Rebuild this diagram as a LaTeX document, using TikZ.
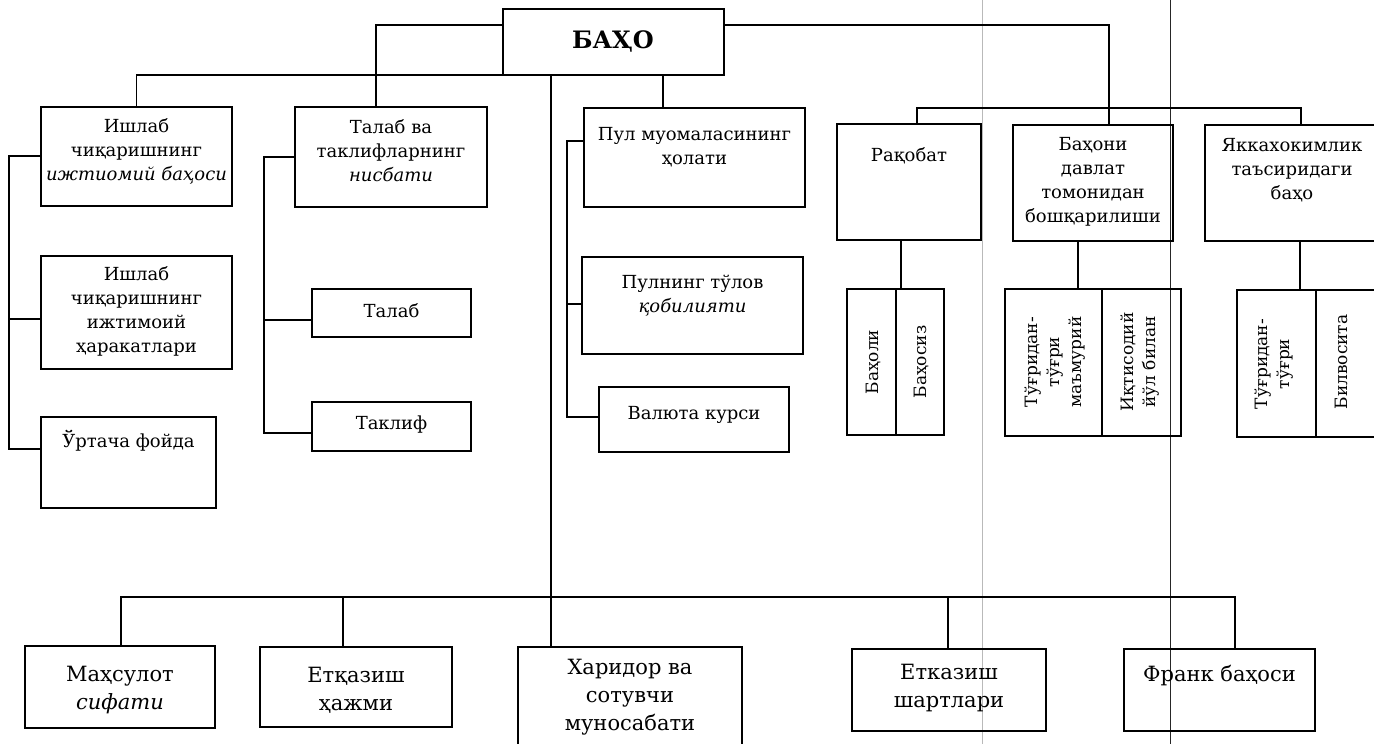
\documentclass[tikz,border=0pt]{standalone}
\usepackage{fontspec}
\setmainfont{DejaVu Serif}
\usetikzlibrary{calc}
\newcommand{\mkbox}[5]{\node[bx, minimum width={(#4-#2)*1pt}, minimum height={(#5-#3)*1pt}] (#1) at ({(#2+#4)/2},{(#3+#5)/2}) {};}
\tikzset{
  bx/.style={draw, rectangle, line width=1.3pt, inner sep=0pt, outer sep=0pt},
  lbl/.style={align=center, inner sep=0pt, font=\fontsize{18}{24}\selectfont},
  big/.style={align=center, inner sep=0pt, font=\fontsize{21}{28}\selectfont},
  rot/.style={align=center, inner sep=0pt, rotate=90, font=\fontsize{17}{22}\selectfont},
  conn/.style={line width=1.3pt},
  divline/.style={line width=1.3pt},
  scanline/.style={line width=0.6pt}
}
\begin{document}
\begin{tikzpicture}[x=1pt,y=-1pt]
\fill[white] (0,0) rectangle (1374,744);
\useasboundingbox (0,0) rectangle (1374,744);

% scan marks
\draw[scanline, gray!55] (982,0) -- (982,744);
\draw[scanline, black!85] (1170,0) -- (1170,744);

% ---------- boxes ----------
\mkbox{top}{503}{9}{724}{75}
\mkbox{A}{41}{107}{232}{206}
\mkbox{A2}{41}{256}{232}{369}
\mkbox{A3}{41}{417}{216}{508}
\mkbox{B}{295}{107}{487}{207}
\mkbox{B2}{312}{289}{471}{337}
\mkbox{B3}{312}{402}{471}{451}
\mkbox{C}{584}{108}{805}{207}
\mkbox{C2}{582}{257}{803}{354}
\mkbox{C3}{599}{387}{789}{452}
\mkbox{R}{837}{124}{981}{240}
\mkbox{R2}{847}{289}{944}{435}
\mkbox{D}{1013}{125}{1173}{241}
\mkbox{D2}{1005}{289}{1181}{436}
\mkbox{E}{1205}{125}{1380}{241}
\mkbox{E2}{1237}{290}{1377}{437}
\mkbox{mah}{25}{646}{215}{728}
\mkbox{etq}{260}{647}{452}{727}
\mkbox{har}{518}{647}{742}{752}
\mkbox{f4}{852}{649}{1046}{731}
\mkbox{fr}{1124}{649}{1315}{731}

% dividers of split boxes
\coordinate (dR) at (896,0);
\coordinate (dD) at (1102,0);
\coordinate (dE) at (1316,0);
\draw[divline] (R2.north -| dR) -- (R2.south -| dR);
\draw[divline] (D2.north -| dD) -- (D2.south -| dD);
\draw[divline] (E2.north -| dE) -- (E2.south -| dE);

% ---------- texts ----------
\node[inner sep=0pt, font=\fontsize{24}{28}\selectfont\bfseries] (ttop) at (613,41) {БАҲО};
\node[lbl] (tA) at (136.5,151) {Ишлаб\\чиқаришнинг\\\textit{ижтиомий баҳоси}};
\node[lbl] (tA2) at (136.5,311) {Ишлаб\\чиқаришнинг\\ижтимоий\\ҳаракатлари};
\node[lbl] (tA3) at (128.5,441) {Ўртача фойда};
\node[lbl] (tB) at (391,151) {Талаб ва\\таклифларнинг\\\textit{нисбати}};
\node[lbl] (tB2) at (391.5,311) {Талаб};
\node[lbl] (tB3) at (391.5,425) {Таклиф};
\node[lbl] (tC) at (694.5,147) {Пул муомаласининг\\ҳолати};
\node[lbl] (tC2) at (692.5,296) {Пулнинг тўлов\\\textit{қобилияти}};
\node[lbl] (tC3) at (694,415) {Валюта курси};
\node[lbl] (tR) at (909,156) {Рақобат};
\node[rot] (tR2a) at (873,362) {Баҳоли};
\node[rot] (tR2b) at (921,362) {Баҳосиз};
\node[lbl] (tD) at (1093,182) {Баҳони\\давлат\\томонидан\\бошқарилиши};
\node[rot] (tD2a) at (1055,362) {Тўғридан-\\тўғри\\маъмурий};
\node[rot] (tD2b) at (1140,362) {Иқтисодий\\йўл билан};
\node[lbl] (tE) at (1292,170) {Яккахокимлик\\таъсиридаги\\баҳо};
\node[rot] (tE2a) at (1274,364) {Тўғридан-\\тўғри};
\node[rot] (tE2b) at (1341,362) {Билвосита};
\node[big] (tmah) at (120,690) {Маҳсулот\\\textit{сифати}};
\node[big] (tetq) at (356,690) {Етқазиш\\ҳажми};
\node[big] (thar) at (630,697) {Харидор ва\\сотувчи\\муносабати};
\node[big] (tf4) at (949,688) {Етказиш\\шартлари};
\node[big] (tfr) at (1219.5,676) {Франк баҳоси};

% ---------- connector guide coordinates ----------
\coordinate (yT) at (0,25);
\coordinate (xB) at (376,0);
\coordinate (xM) at (551,0);
\coordinate (xC) at (663,0);
\coordinate (xD) at (1109,0);
\coordinate (yH) at (0,108);
\coordinate (xR) at (917,0);
\coordinate (xE) at (1301,0);
\coordinate (xR2) at (901,0);
\coordinate (xD2) at (1078,0);
\coordinate (xE2) at (1300,0);
\coordinate (xL) at (9,0);
\coordinate (yA) at (0,156);
\coordinate (yA2) at (0,319);
\coordinate (yA3) at (0,449);
\coordinate (xLB) at (264,0);
\coordinate (yB2) at (0,320);
\coordinate (yB3) at (0,433);
\coordinate (xLC) at (567,0);
\coordinate (yC1) at (0,141);
\coordinate (yC2) at (0,304);
\coordinate (yC3) at (0,417);
\coordinate (yBar) at (0,597);
\coordinate (xb1) at (121,0);
\coordinate (xb2) at (343,0);
\coordinate (xb4) at (948,0);
\coordinate (xb5) at (1235,0);

% ---------- connectors ----------
\draw[conn] (top.west |- yT) -| (B.north -| xB);
\draw[conn] (top.south west) -| (A.north);
\draw[conn] (top.south -| xM) -- (har.north -| xM);
\draw[conn] (top.south -| xC) -- (C.north -| xC);
\draw[conn] (top.east |- yT) -| (D.north -| xD);
\draw[conn] (R.north -| xR) |- (yH -| xE) -- (E.north -| xE);
\draw[conn] (R.south -| xR2) -- (R2.north -| xR2);
\draw[conn] (D.south -| xD2) -- (D2.north -| xD2);
\draw[conn] (E.south -| xE2) -- (E2.north -| xE2);

\draw[conn] (A.west |- yA) -| (xL |- yA3) -- (A3.west |- yA3);
\draw[conn] (xL |- yA2) -- (A2.west |- yA2);

\draw[conn] (B.west) -| (xLB |- yB3) -- (B3.west |- yB3);
\draw[conn] (xLB |- yB2) -- (B2.west |- yB2);

\draw[conn] (C.west |- yC1) -| (xLC |- yC3) -- (C3.west |- yC3);
\draw[conn] (xLC |- yC2) -- (C2.west |- yC2);

\draw[conn] (mah.north -| xb1) |- (yBar -| xb5) -- (fr.north -| xb5);
\draw[conn] (etq.north -| xb2) -- (yBar -| xb2);
\draw[conn] (f4.north -| xb4) -- (yBar -| xb4);
\end{tikzpicture}
\end{document}
